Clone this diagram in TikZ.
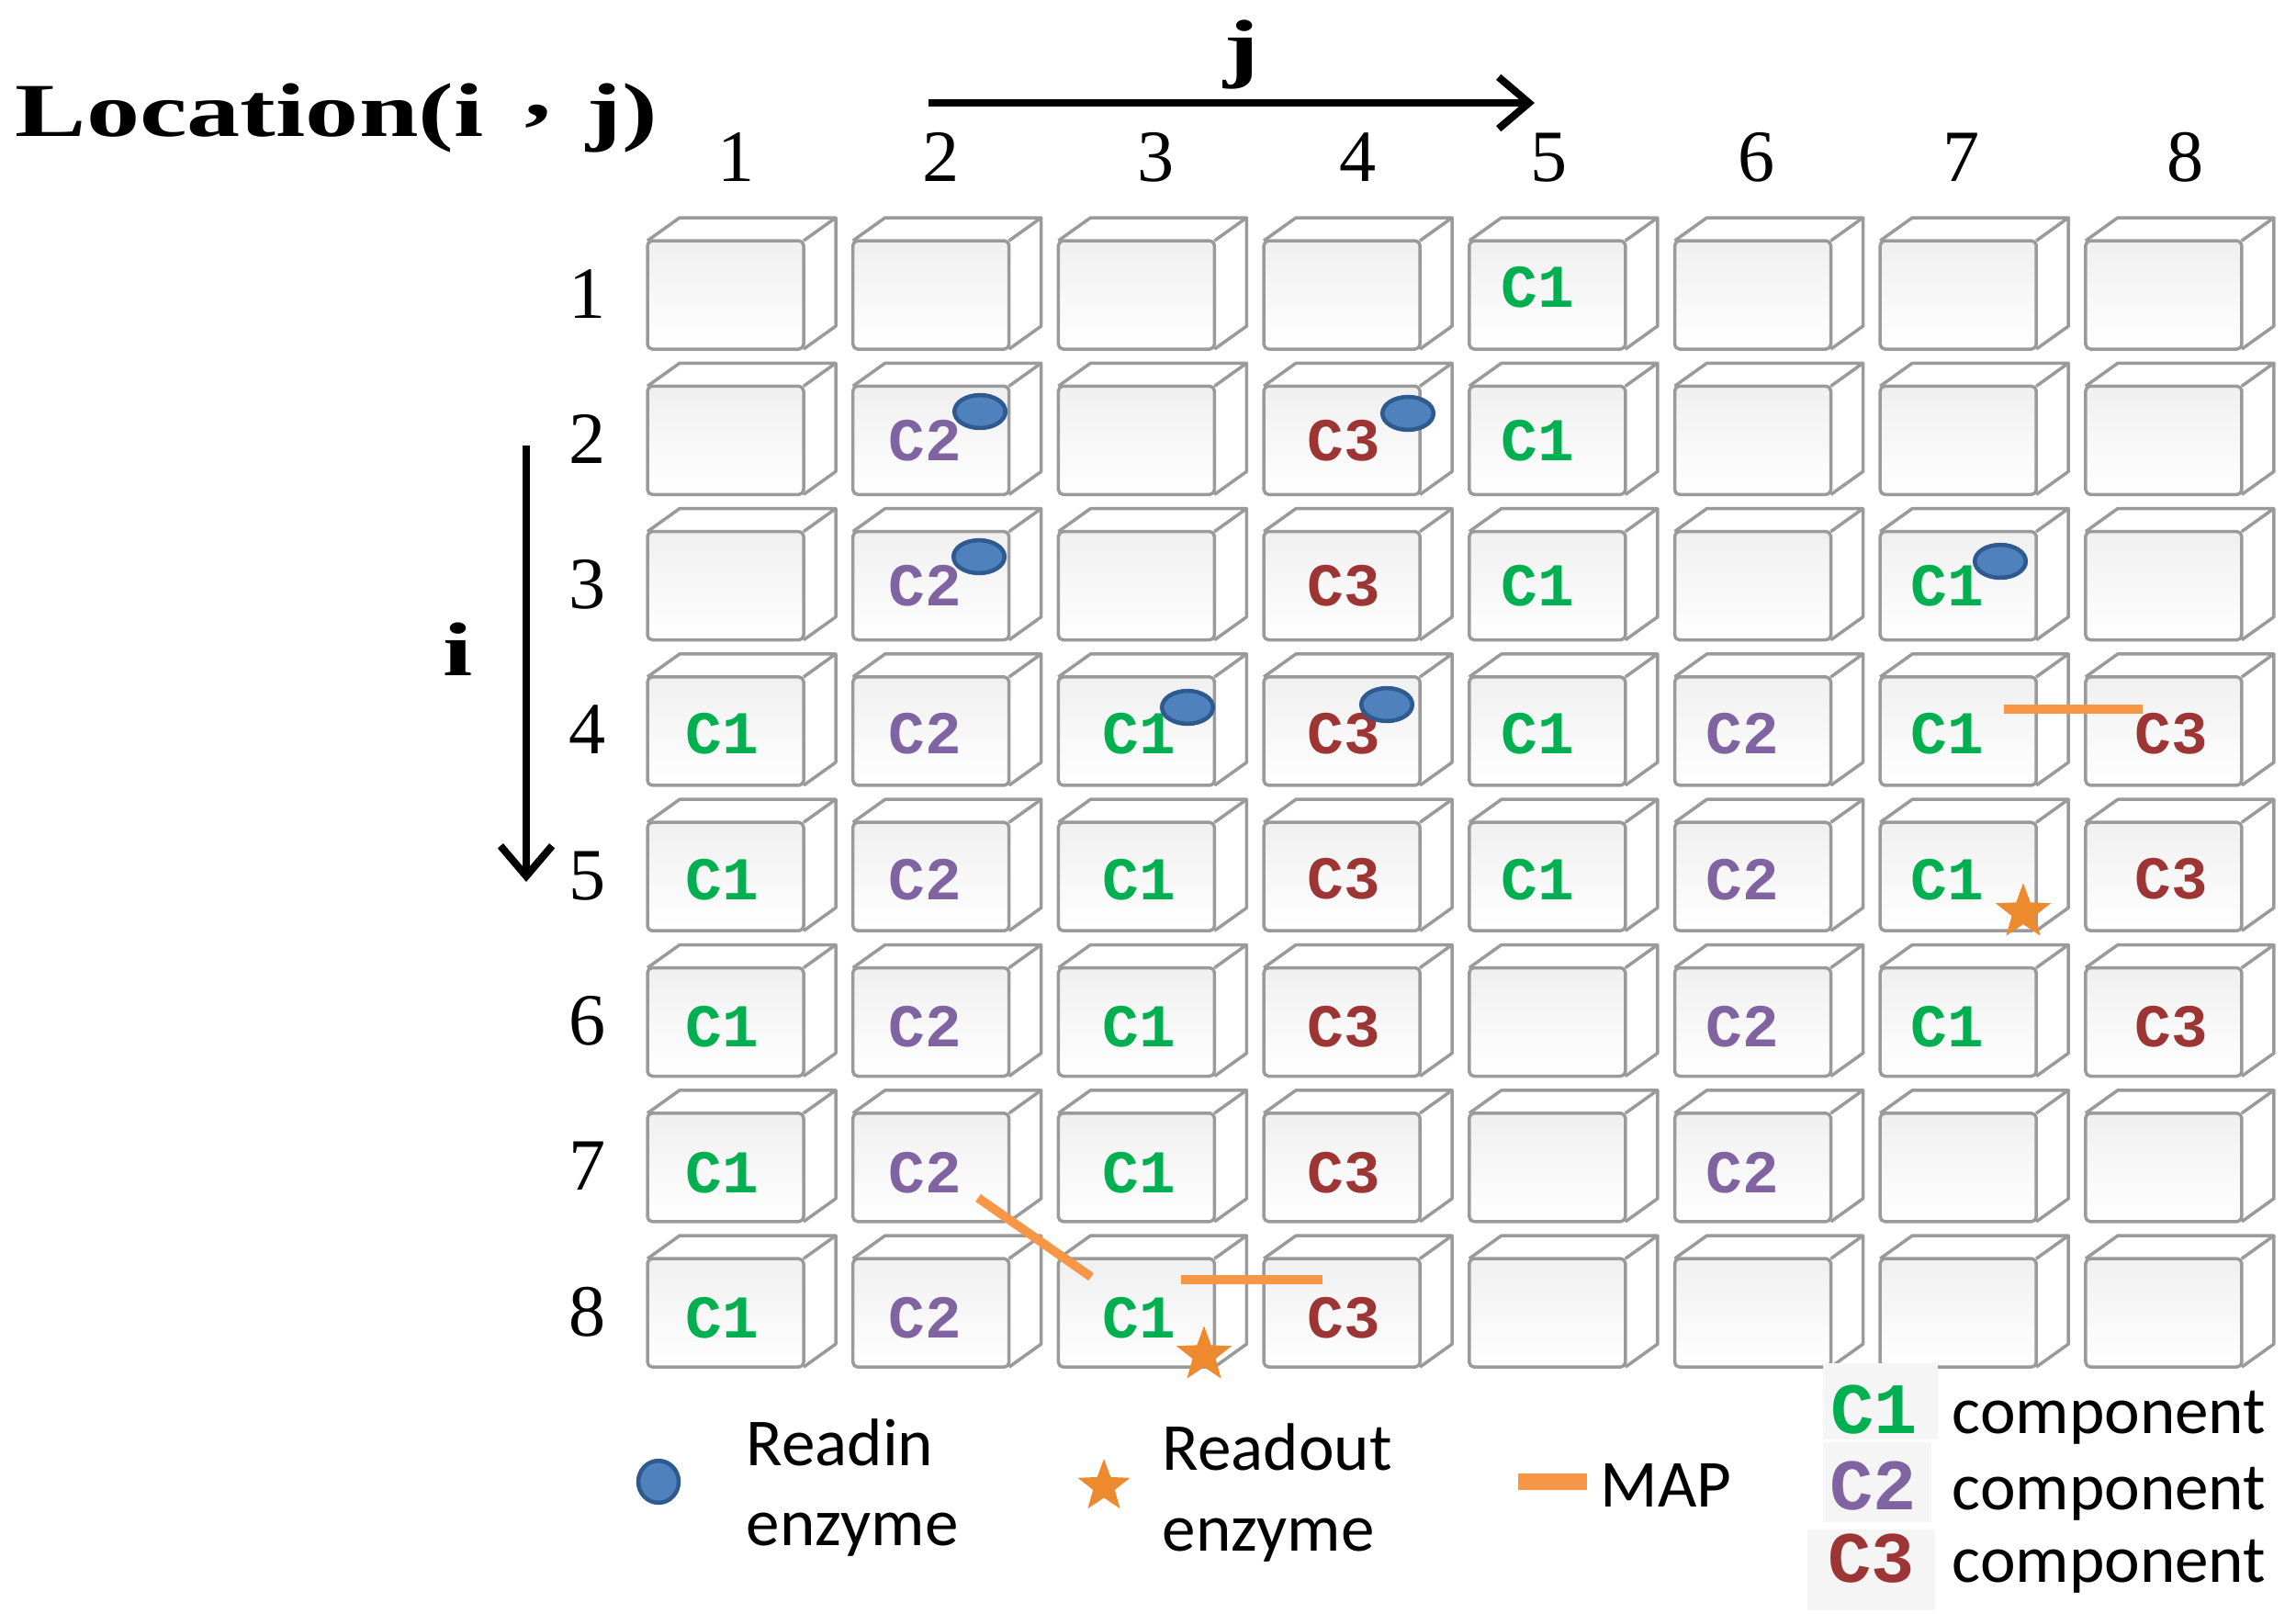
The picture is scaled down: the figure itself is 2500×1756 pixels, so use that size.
\documentclass[tikz,border=0pt]{standalone}
\usepackage{fontspec}
\setmainfont{Liberation Serif}
\newfontfamily\titlefont[FakeStretch=1.4]{Liberation Serif Bold}
\newfontfamily\monob{Liberation Mono Bold}
\newfontfamily\legfont{Carlito}
\usetikzlibrary{arrows.meta,shapes.geometric}
\definecolor{cubegray}{HTML}{9A9A9A}
\definecolor{cone}{HTML}{00B050}
\definecolor{ctwo}{HTML}{8064A2}
\definecolor{cthree}{HTML}{9C3533}
\definecolor{dotfill}{HTML}{4F81BD}
\definecolor{dotline}{HTML}{2F5A8F}
\definecolor{maporange}{HTML}{F79646}
\definecolor{starorange}{HTML}{EE8A2E}
\tikzset{
  cubeline/.style={draw=cubegray, line width=1pt, line join=round},
  pics/cube/.style={code={
    \fill[white] (0,0) -- (35,-25) -- (205,-25) -- (205,93) -- (170,118) -- (0,118) -- cycle;
    \shade[top color=black!6, bottom color=white] (0,0) rectangle (170,118);
    \draw[cubeline] (0,0) -- (35,-25) -- (205,-25) -- (170,0);
    \draw[cubeline] (205,-25) -- (205,93) -- (170,118);
    \draw[cubeline, rounded corners=1.5pt] (0,0) rectangle (170,118);
  }},
  labbase/.style={inner sep=0pt, font=\monob\fontsize{18.8pt}{22pt}\selectfont},
  lab1/.style={labbase, text=cone},
  lab2/.style={labbase, text=ctwo},
  lab3/.style={labbase, text=cthree},
  numlab/.style={inner sep=0pt, anchor=base, font=\fontsize{22.8pt}{26pt}\selectfont},
  axislab/.style={inner sep=0pt, anchor=base, font=\titlefont\fontsize{23.6pt}{28pt}\selectfont},
  axisarrow/.style={line width=2.3pt, -{Straight Barb[length=9.4pt,width=16pt,line width=2.3pt]}},
  readin/.style={ellipse, draw=dotline, fill=dotfill, line width=1.3pt, inner sep=0pt,
    minimum width=15.8pt, minimum height=10.2pt},
  readout/.style={star, star points=5, star point ratio=2.4, fill=starorange, draw=none,
    inner sep=0pt, minimum size=18pt},
  mapline/.style={draw=maporange, line width=2.8pt},
  legtext/.style={inner sep=0pt, anchor=base west, font=\legfont\fontsize{20.8pt}{24pt}\selectfont},
  legc/.style={inner sep=0pt, anchor=base west, font=\monob\fontsize{22.4pt}{26pt}\selectfont},
}
\begin{document}
\begin{tikzpicture}[x=0.01cm, y=-0.01cm]
\useasboundingbox (0,0) rectangle (2500,1756);
\fill[white] (0,0) rectangle (2500,1756);

% title and axes
\node[inner sep=0pt, anchor=base west, font=\titlefont\fontsize{23.6pt}{28pt}\selectfont] (title) at (16,148)
  {Location(i\hspace{12.8pt}\raisebox{6pt}{,}\hspace{10.8pt}j)};
\node[axislab] (jlab) at (1352,79) {j};
\node[axislab] (ilab) at (499,735) {i};
\coordinate (jA) at (1011,112);
\coordinate (jB) at (1671,112);
\draw[axisarrow] (jA) -- (jB);
\coordinate (iA) at (573,485);
\coordinate (iB) at (573,960);
\draw[axisarrow] (iA) -- (iB);

% column numbers
\foreach \n/\x in {1/802,2/1025,3/1259,4/1479,5/1687,6/1913,7/2136,8/2380}
  \node[numlab] (col\n) at (\x,197) {\n};
% row numbers
\foreach \n in {1,...,8}
  \node[numlab] (row\n) at (640,{321+158.3*(\n-1)+25}) {\n};

% cubes
\foreach \i in {1,...,8}
  \foreach \j in {1,...,8}
    \pic at ({705+223.7*(\j-1)},{262+158.3*(\i-1)}) {cube};

% component labels
\foreach \i/\j/\c in {
  1/5/1,
  2/2/2, 2/4/3, 2/5/1,
  3/2/2, 3/4/3, 3/5/1, 3/7/1,
  4/1/1, 4/2/2, 4/3/1, 4/4/3, 4/5/1, 4/6/2, 4/7/1, 4/8/3,
  5/1/1, 5/2/2, 5/3/1, 5/4/3, 5/5/1, 5/6/2, 5/7/1, 5/8/3,
  6/1/1, 6/2/2, 6/3/1, 6/4/3, 6/6/2, 6/7/1, 6/8/3,
  7/1/1, 7/2/2, 7/3/1, 7/4/3, 7/6/2,
  8/1/1, 8/2/2, 8/3/1, 8/4/3}
{
  \pgfmathsetmacro\lx{{786,1007,1240,1463,1674,1897,2120,2364}[\j-1]}
  \pgfmathsetmacro\ly{321+158.3*(\i-1)+{-8,0,0,3,3,5,6,6}[\i-1]}
  \node[lab\c] (l\i\j) at (\lx,\ly) {C\c};
}

% readin enzymes
\node[readin] (d22) at (1067,448) {};
\node[readin] (d24) at (1533,450) {};
\node[readin] (d32) at (1066,606) {};
\node[readin] (d37) at (2178,611) {};
\node[readin] (d43) at (1293,770) {};
\node[readin] (d44) at (1510,767) {};

% MAP lines
\coordinate (m1a) at (1065,1304);
\coordinate (m1b) at (1188,1390);
\coordinate (m2a) at (1286,1393);
\coordinate (m2b) at (1440,1393);
\coordinate (m3a) at (2182,772);
\coordinate (m3b) at (2333,772);
\draw[mapline] (m1a) -- (m1b);
\draw[mapline] (m2a) -- (m2b);
\draw[mapline] (m3a) -- (m3b);

% readout enzymes
\node[readout] (s57) at (2203,993) {};
\node[readout] (s83) at (1311,1475) {};

% legend
\node[readin, minimum width=12.5pt, minimum height=13pt] (legdot) at (717,1613) {};
\node[legtext] (rin1) at (812,1595) {Readin};
\node[legtext] (rin2) at (812,1682) {enzyme};
\node[readout, minimum size=17pt] (legstar) at (1202,1618) {};
\node[legtext] (rout1) at (1265,1600) {Readout};
\node[legtext] (rout2) at (1265,1688) {enzyme};
\coordinate (legmA) at (1653,1613);
\coordinate (legmB) at (1728,1613);
\draw[mapline, line width=5pt] (legmA) -- (legmB);
\node[legtext] (legmap) at (1742,1640) {MAP};

\fill[black!4] (1985,1484) rectangle (2110,1567);
\fill[black!4] (1985,1570) rectangle (2103,1657);
\fill[black!4] (1968,1665) rectangle (2107,1753);
\node[legc, text=cone] (legc1) at (1993,1560) {C1};
\node[legc, text=ctwo] (legc2) at (1992,1643) {C2};
\node[legc, text=cthree] (legc3) at (1990,1722) {C3};
\node[legtext] (comp1) at (2125,1560) {component};
\node[legtext] (comp2) at (2125,1643) {component};
\node[legtext] (comp3) at (2125,1722) {component};
\end{tikzpicture}
\end{document}
